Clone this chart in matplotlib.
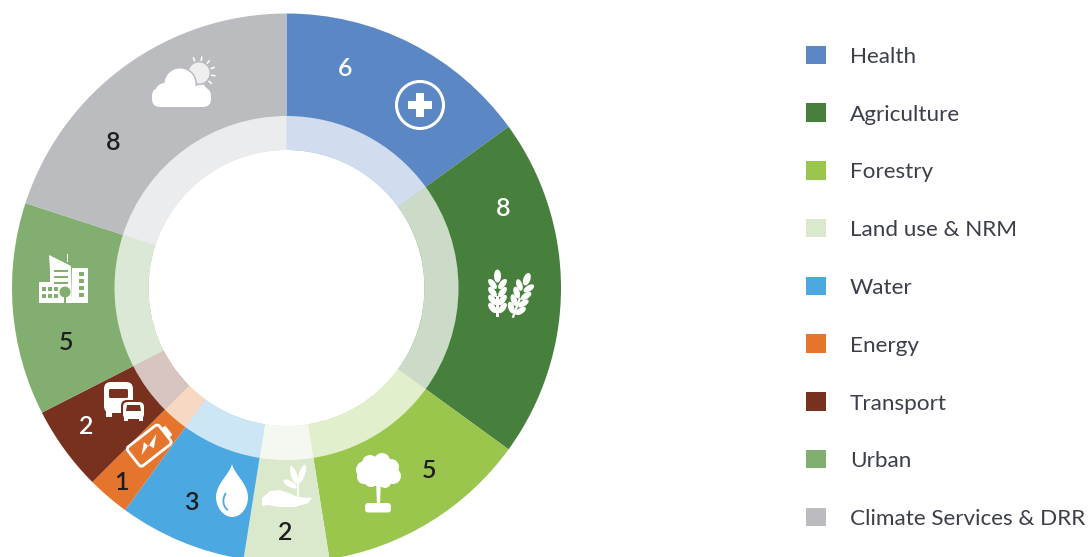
import numpy as np
import matplotlib
matplotlib.use('Agg')
import matplotlib.pyplot as plt
from matplotlib.patches import Circle, Ellipse, FancyBboxPatch, Polygon, Rectangle, PathPatch
from matplotlib.path import Path
from matplotlib.transforms import Affine2D

plt.rcParams['font.family'] = ['Lato', 'DejaVu Sans']

# data
sectors = ['Health', 'Agriculture', 'Forestry', 'Land use & NRM', 'Water',
           'Energy', 'Transport', 'Urban', 'Climate Services & DRR']
counts = [6, 8, 5, 2, 3, 1, 2, 5, 8]
colors = ['#5B87C5', '#477F3C', '#9AC64E', '#DAE9CC', '#4CA8E0',
          '#E5752C', '#78311F', '#82AF6F', '#BBBCC0']
label_colors = ['white', 'white', '#1e1e1e', '#1e1e1e', '#1e1e1e',
                '#1e1e1e', 'white', '#1e1e1e', '#1e1e1e']
label_pos = [(345, 69), (503, 208), (429, 471), (285, 532), (191, 503),
             (121, 482), (86, 426), (66, 342), (113, 143)]

W, H = 1091, 557
fig = plt.figure(figsize=(W / 100, H / 100), dpi=100)

# donut in pixel units, y up
ax = fig.add_axes([0, 0, 1, 1])
cx, cy = 286.5, H - 288
ax.pie(counts, colors=colors, startangle=90, counterclock=False, center=(cx, cy), radius=274.5,
       wedgeprops=dict(width=274.5 - 138, linewidth=0))
# pale ring on top of the wedges
ax.pie(counts, colors=['white'] * len(counts), startangle=90, counterclock=False, center=(cx, cy), radius=172,
       wedgeprops=dict(width=34, linewidth=0, alpha=0.72))
ax.set_xlim(0, W)
ax.set_ylim(0, H)
ax.set_aspect('auto')
ax.axis('off')

# overlay for labels, legend and icons, y down like the picture
ov = fig.add_axes([0, 0, 1, 1])
ov.set_xlim(0, W)
ov.set_ylim(H, 0)
ov.axis('off')

for n, c, (x, y) in zip(counts, label_colors, label_pos):
    ov.text(x, y, str(n), color=c, fontsize=18, fontweight='semibold', ha='center', va='center')

legend_y = np.linspace(55, 517, len(sectors))
for name, col, y in zip(sectors, colors, legend_y):
    ov.add_patch(Rectangle((806, y - 9.5), 20, 18.5, fc=col, ec='none'))
    ov.text(850, y + 2, name, color='#3c3f4a', fontsize=16.2, ha='left', va='center')


def rounded(x, y, w, h, r, fc='white', ec='none', lw=0, tr=None):
    p = FancyBboxPatch((x + r, y + r), w - 2 * r, h - 2 * r, boxstyle=f'round,pad={r}',
                       fc=fc, ec=ec, lw=lw)
    if tr is not None:
        p.set_transform(tr + ov.transData)
    ov.add_patch(p)


def blob(x, y, r, fc='white'):
    ov.add_patch(Circle((x, y), r, fc=fc, ec='none'))


def leaf(x, y, w, h, ang, fc='white'):
    ov.add_patch(Ellipse((x, y), w, h, angle=ang, fc=fc, ec='none'))


# cloud + sun
grey = colors[8]
for a in np.deg2rad(np.arange(-110, 80, 30)):
    ov.plot([199 + 13 * np.cos(a), 199 + 16 * np.cos(a)], [73 + 13 * np.sin(a), 73 + 16 * np.sin(a)],
            color='white', lw=1.1)
blob(199, 73, 10.5, fc='#efefef')
blob(180, 84, 17, fc=grey)
blob(180, 84, 15.5)
blob(165, 93, 10)
blob(200, 94, 9)
blob(161, 98, 8.5)
rounded(152, 88, 59, 19, 8)

# health plus
ov.add_patch(Circle((420, 105), 23.5, fc='none', ec='white', lw=2.2))
ov.add_patch(Rectangle((416, 93), 8, 24, fc='white', ec='none'))
ov.add_patch(Rectangle((408, 101), 24, 8, fc='white', ec='none'))

# wheat, drawn along an axis then rotated
for ex, ey, ang in [(497.5, 296, 0), (520, 298, 20)]:
    tr = Affine2D().rotate_deg(ang).translate(ex, ey) + ov.transData
    ov.add_patch(Rectangle((-1.2, 0), 2.4, 21, fc='white', ec='none', transform=tr))
    ov.add_patch(Ellipse((0, -20), 7, 13, fc='white', ec='none', transform=tr))
    for k in range(4):
        for s in (-1, 1):
            ov.add_patch(Ellipse((s * 5, -12 + k * 8), 6, 12, angle=s * 38, fc='white', ec='none', transform=tr))

# tree
for x, y, r in [(378, 473, 13), (365, 470, 9), (370, 463, 8), (382, 461, 8), (391, 467, 8),
                (393, 476, 8), (385, 482, 6), (371, 480, 7), (364, 477, 7)]:
    blob(x, y, r)
ov.add_patch(Polygon([(376, 480), (381, 480), (380, 505), (377, 505)], fc='white', ec='none'))
rounded(365, 503, 26, 9.5, 3.5)

# hand + sprout
ov.add_patch(PathPatch(Path([(262, 498), (270, 491), (280, 490), (291, 494), (298, 497), (312, 498), (308, 503),
                             (295, 507), (280, 507), (268, 505), (262, 506), (262, 498)]),
                       fc='white', ec='none'))
ov.plot([298, 298], [496, 478], color='white', lw=1.3)
leaf(294, 475, 6, 19, -18)
leaf(302, 474, 6, 19, 18)
leaf(290, 484, 6, 15, -60)

# water drop
ov.add_patch(PathPatch(Path([(232, 463), (232, 472), (216, 483), (216, 497), (216, 508), (224, 517), (232, 517),
                             (241, 517), (248, 508), (248, 497), (248, 483), (232, 472), (232, 463)],
                            [Path.MOVETO, Path.CURVE4, Path.CURVE4, Path.CURVE4, Path.CURVE4, Path.CURVE4, Path.CURVE4,
                             Path.CURVE4, Path.CURVE4, Path.CURVE4, Path.CURVE4, Path.CURVE4, Path.CURVE4]),
                       fc='white', ec='none'))
ov.add_patch(PathPatch(Path([(226, 493), (221, 500), (224, 508), (228, 510)],
                            [Path.MOVETO, Path.CURVE4, Path.CURVE4, Path.CURVE4]),
                       fc='none', ec=colors[4], lw=1.3))

# battery
bt = Affine2D().rotate_deg(-38).translate(150, 445)
rounded(-21, -12, 40, 24, 3, fc='none', ec='white', lw=2, tr=bt)
rounded(19, -6, 5, 12, 1.5, tr=bt)
ov.add_patch(Polygon([(-13, 3), (-3, -6), (-2, 0), (12, -5), (1, 5), (-1, -1)], fc='white', ec='none',
                     transform=bt + ov.transData))

# bus + car
brown = colors[6]
rounded(104, 382, 29, 31, 7)
rounded(109, 389, 19, 9, 1.5, fc=brown)
ov.add_patch(Rectangle((106, 411), 6, 6, fc='white', ec='none'))
rounded(121, 400, 25, 22, 6, fc=brown)
rounded(123, 402, 21, 17, 5)
ov.add_patch(Polygon([(127, 405), (140, 405), (141, 411), (126, 411)], fc=brown, ec='none'))
ov.add_patch(Rectangle((124, 417), 4, 3.5, fc='white', ec='none'))
ov.add_patch(Rectangle((139, 417), 4, 3.5, fc='white', ec='none'))

# city
urban = colors[7]
ov.add_patch(Polygon([(49, 255), (71, 266), (72, 303), (50, 303), (50, 270)], fc='white', ec='none'))
ov.add_patch(Rectangle((39, 282), 22, 21, fc='white', ec='none'))
ov.add_patch(Rectangle((72, 268), 15.5, 35, fc='white', ec='none'))
ov.add_patch(Rectangle((67, 254), 1.4, 8, fc='white', ec='none'))
for yy in (270, 276, 282):
    ov.add_patch(Rectangle((54, yy), 14, 2, fc=urban, ec='none'))
for yy in (272, 279, 286, 293):
    ov.add_patch(Rectangle((79, yy), 4.5, 3.5, fc=urban, ec='none'))
for xx in (42, 48, 54):
    for yy in (287, 294):
        ov.add_patch(Rectangle((xx, yy), 3.8, 4, fc=urban, ec='none'))
blob(65, 292, 5.5, fc=urban)
ov.add_patch(Rectangle((64, 295), 2, 8, fc=urban, ec='none'))

plt.savefig('out.png', dpi=100)
